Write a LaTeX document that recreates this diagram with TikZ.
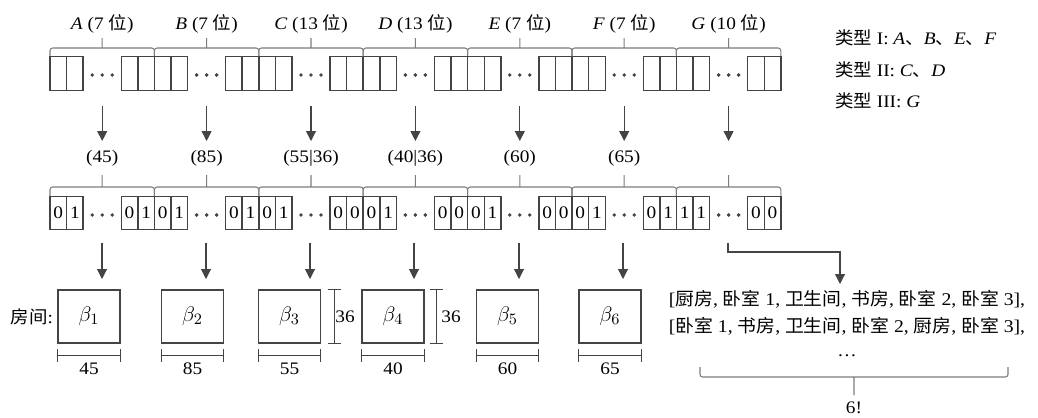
\documentclass[tikz,border=0pt]{standalone}
\usepackage{fontspec}
\setmainfont[FakeStretch=1.1]{Liberation Serif}
\newfontfamily\cjk[FakeStretch=1.05]{Noto Sans CJK SC}
\newcommand{\zh}[1]{{\cjk #1}}
\usetikzlibrary{arrows.meta,calc}
\definecolor{LineGray}{RGB}{68,68,68}
\definecolor{BraceGray}{RGB}{125,125,125}
\tikzset{
  flow/.style={-{Triangle[length=2mm,width=2mm]},line width=0.6pt,draw=LineGray},
  cell/.style={draw=LineGray,line width=0.8pt,minimum width=0.332cm,
    minimum height=0.67cm,inner sep=0pt,font=\fontsize{10}{12}\selectfont},
  brace/.style={draw=BraceGray,line width=0.6pt,rounded corners=1.5pt},
  room/.style={draw=LineGray,line width=0.8pt,minimum width=1.24cm,
    minimum height=1.06cm,inner sep=0pt,font=\fontsize{12.5}{14}\selectfont},
  dim/.style={{Bar[width=2.6mm]}-{Bar[width=2.6mm]},line width=0.6pt,draw=LineGray},
  lbl/.style={font=\fontsize{10}{12}\selectfont,inner sep=1pt}
}
\begin{document}
\begin{tikzpicture}[x=0.02cm,y=-0.02cm]
  \useasboundingbox (0,0) rectangle (1038,417);
  \foreach \n/\w/\ba/\bb/\bc/\bd/\val [count=\i from 0] in
    {A/7/0/1/0/1/{(45)},B/7/0/1/0/1/{(85)},C/13/0/1/0/0/{(55|36)},
     D/13/0/1/0/0/{(40|36)},E/7/0/1/0/0/{(60)},F/7/0/1/0/1/{(65)},G/10/1/1/0/0/{}}{
    \pgfmathsetmacro{\xa}{50+\i*104.4}
    \pgfmathsetmacro{\xm}{\xa+52.2}
    \pgfmathsetmacro{\xb}{\xa+104.4}
    \node[lbl] (top\n) at (\xm,24) {\textit{\n} (\w\ \zh{位})};
    \draw[brace] (\xa,57) -- (\xa,48) -- (\xb,48) -- (\xb,57) (\xm,48) -- (\xm,38);
    \node[cell] (r1\n1) at (\xa+8.3,73.5) {};
    \node[cell] (r1\n2) at (\xa+24.9,73.5) {};
    \node[cell] (r1\n3) at (\xa+79.5,73.5) {};
    \node[cell] (r1\n4) at (\xa+96.1,73.5) {};
    \foreach \d in {-10,0,10} \fill[LineGray] (\xm+\d,75) circle (1.1pt);
    \coordinate (s1\n) at (\xm,106);
    \coordinate (e1\n) at (\xm,141);
    \draw[flow] (s1\n) -- (e1\n);
    \node[lbl] (len\n) at (\xm,158) {\val};
    \draw[brace] (\xa,196) -- (\xa,187) -- (\xb,187) -- (\xb,196) (\xm,187) -- (\xm,175);
    \node[cell] (r2\n1) at (\xa+8.3,213) {\ba};
    \node[cell] (r2\n2) at (\xa+24.9,213) {\bb};
    \node[cell] (r2\n3) at (\xa+79.5,213) {\bc};
    \node[cell] (r2\n4) at (\xa+96.1,213) {\bd};
    \foreach \d in {-10,0,10} \fill[LineGray] (\xm+\d,215) circle (1.1pt);
  }
  \node[lbl,anchor=west] (type1) at (833,38) {\zh{类型} I: \textit{A}\zh{、}\textit{B}\zh{、}\textit{E}\zh{、}\textit{F}};
  \node[lbl,anchor=west] (type2) at (833,70) {\zh{类型} II: \textit{C}\zh{、}\textit{D}};
  \node[lbl,anchor=west] (type3) at (833,101) {\zh{类型} III: \textit{G}};
  \node[lbl,anchor=east] (rooms) at (55,317) {\zh{房间}:};
  \foreach \k/\cx/\ax/\rw in {1/89/102/45,2/192.5/206/85,3/289.5/310/55,
    4/393/414/40,5/507.5/519/60,6/610/623/65}{
    \node[room] (b\k) at (\cx,316.5) {$\beta_{\k}$};
    \coordinate (s2\k) at (\ax,243);
    \coordinate (e2\k) at (\ax,279);
    \draw[flow] (s2\k) -- (e2\k);
    \draw[dim] ($(b\k.south west)+(0,12)$) -- ($(b\k.south east)+(0,12)$);
    \node[lbl] (w\k) at (\cx,369) {\rw};
  }
  \draw[dim] ($(b3.north east)+(13,0)$) -- ($(b3.south east)+(13,0)$);
  \node[lbl] (h3) at (345,317) {36};
  \draw[dim] ($(b4.north east)+(12,0)$) -- ($(b4.south east)+(12,0)$);
  \node[lbl] (h4) at (451,317) {36};
  \node[lbl,align=center,font=\fontsize{10.2}{15.3}\selectfont] (perm) at (847,313)
    {[\zh{厨房}, \zh{卧室} 1, \zh{卫生间}, \zh{书房}, \zh{卧室} 2, \zh{卧室} 3],\\{}%
     [\zh{卧室} 1, \zh{书房}, \zh{卫生间}, \zh{卧室} 2, \zh{厨房}, \zh{卧室} 3],};
  \node[lbl] (pdots) at (847,356) {\ldots};
  \coordinate (gs) at (728,243);
  \coordinate (ge) at (840,284);
  \draw[flow] (gs) -- ++(0,9) -| (ge);
  \draw[brace] (700,367) -- (700,377) -- (1008,377) -- (1008,367) (854,377) -- (854,395);
  \node[lbl] (fact) at (854,408) {6!};
\end{tikzpicture}
\end{document}
